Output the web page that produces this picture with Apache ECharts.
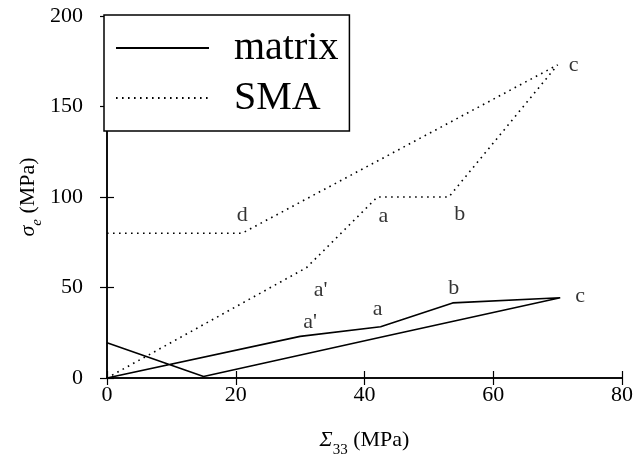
<!DOCTYPE html>
<html>
<head>
<meta charset="utf-8">
<script src="https://cdn.jsdelivr.net/npm/echarts@6/dist/echarts.min.js"></script>
<style>
html,body{margin:0;padding:0;background:#fff;}
#chart{width:634px;height:455px;}
</style>
</head>
<body>
<div id="chart"></div>
<script>
// ---- data ----
const seriesNames = ['matrix', 'SMA'];
const xTicks = [0, 20, 40, 60, 80];
const yTicks = [0, 50, 100, 150, 200];

// matrix (solid): unloading branch then loading branch
const matrixX = [0, 15, 42.5, 70.4, 53.7, 42.5, 30, 0];
const matrixY = [19.5, 0.8, 22.5, 44.3, 41.5, 28.3, 23, 0];
const matrixLabels = ['', '', '', 'c', 'b', 'a', "a'", ''];

// SMA (dotted)
const smaX = [0, 21, 70, 53.1, 42, 31, 0];
const smaY = [80, 80, 173, 100, 100, 61, 0];
const smaLabels = ['', 'd', 'c', 'b', 'a', "a'", ''];

// ---- styling ----
const FONT = 'Liberation Serif';
const matrixLabelOffsets = [null, null, null, [20, -2], [1, -15], [-3, -18], [10, -14], null];
const smaLabelOffsets = [null, [0, -18], [16, 0], [11, 17], [6, 19], [14, 23], null];

function pairs(xs, ys) { return xs.map((x, i) => [x, ys[i]]); }
function labelPoints(xs, ys, labels, offsets) {
  const out = [];
  labels.forEach((t, i) => {
    if (t) out.push({
      value: [xs[i], ys[i]],
      label: { show: true, formatter: t, position: 'inside', offset: offsets[i] }
    });
  });
  return out;
}

const axisCommon = {
  type: 'value',
  axisLine: { show: true, lineStyle: { color: '#000', width: 1.5 } },
  axisTick: { show: true, inside: true, length: 7, lineStyle: { color: '#000', width: 1.2 } },
  splitLine: { show: false },
  axisLabel: { color: '#000', fontFamily: FONT, fontSize: 22 }
};

const chart = echarts.init(document.getElementById('chart'), null, { renderer: 'canvas' });
chart.setOption({
  backgroundColor: '#fff',
  animation: false,
  grid: { left: 107, right: 12, top: 16, bottom: 77, containLabel: false, outerBoundsMode: 'none' },
  legend: {
    data: seriesNames,
    orient: 'vertical',
    left: 104, top: 15,
    backgroundColor: '#fff',
    borderColor: '#000', borderWidth: 1.5, borderRadius: 0,
    padding: [8, 11, 8, 11],
    itemWidth: 93, itemHeight: 10, itemGap: 0,
    itemStyle: { opacity: 0 },
    textStyle: { fontFamily: FONT, fontSize: 40, color: '#000', lineHeight: 50, padding: [0, 0, 0, 20] },
    z: 10
  },
  xAxis: [
    Object.assign({}, axisCommon, {
      position: 'bottom', min: xTicks[0], max: xTicks[xTicks.length - 1], interval: xTicks[1] - xTicks[0],
      axisLabel: Object.assign({}, axisCommon.axisLabel, { margin: 6 }),
      name: '{i|Σ}{sub|33} (MPa)', nameLocation: 'middle', nameGap: 44, nameMoveOverlap: false,
      nameTextStyle: {
        fontFamily: FONT, fontSize: 22, color: '#000', lineHeight: 36,
        rich: {
          i: { fontFamily: FONT, fontSize: 22, fontStyle: 'italic', color: '#000', lineHeight: 36 },
          sub: { fontFamily: FONT, fontSize: 15, color: '#000', lineHeight: 15, verticalAlign: 'bottom' }
        }
      }
    }),
    Object.assign({}, axisCommon, {
      position: 'top', min: xTicks[0], max: xTicks[xTicks.length - 1], interval: xTicks[1] - xTicks[0],
      axisLabel: { show: false }
    })
  ],
  yAxis: [
    Object.assign({}, axisCommon, {
      position: 'left', min: yTicks[0], max: yTicks[yTicks.length - 1], interval: yTicks[1] - yTicks[0],
      axisLabel: Object.assign({}, axisCommon.axisLabel, { margin: 24 }),
      name: '{i|σ}{sub|e} (MPa)', nameLocation: 'middle', nameGap: 62, nameRotate: 90, nameMoveOverlap: false,
      nameTextStyle: {
        fontFamily: FONT, fontSize: 22, color: '#000', lineHeight: 34,
        rich: {
          i: { fontFamily: FONT, fontSize: 22, fontStyle: 'italic', color: '#000', lineHeight: 34 },
          sub: { fontFamily: FONT, fontSize: 15, fontStyle: 'italic', color: '#000', lineHeight: 15, verticalAlign: 'bottom' }
        }
      }
    }),
    Object.assign({}, axisCommon, {
      position: 'right', min: yTicks[0], max: yTicks[yTicks.length - 1], interval: yTicks[1] - yTicks[0],
      axisLabel: { show: false }
    })
  ],
  series: [
    {
      name: seriesNames[0], type: 'line', data: pairs(matrixX, matrixY),
      symbol: 'none', smooth: false,
      lineStyle: { color: '#000', width: 1.6 }, itemStyle: { color: '#000' },
      z: 3
    },
    {
      name: seriesNames[1], type: 'line', data: pairs(smaX, smaY),
      symbol: 'none', smooth: false,
      lineStyle: { color: '#000', width: 1.6, type: [1.6, 4.4], cap: 'butt' }, itemStyle: { color: '#000' },
      z: 3
    },
    {
      name: 'matrixLabels', type: 'scatter', symbolSize: 0, silent: true,
      data: labelPoints(matrixX, matrixY, matrixLabels, matrixLabelOffsets),
      label: { show: true, color: '#000', fontFamily: FONT, fontSize: 22 },
      itemStyle: { color: 'rgba(0,0,0,0)' }, z: 4
    },
    {
      name: 'smaLabels', type: 'scatter', symbolSize: 0, silent: true,
      data: labelPoints(smaX, smaY, smaLabels, smaLabelOffsets),
      label: { show: true, color: '#000', fontFamily: FONT, fontSize: 22 },
      itemStyle: { color: 'rgba(0,0,0,0)' }, z: 4
    }
  ]
});
</script>
</body>
</html>
